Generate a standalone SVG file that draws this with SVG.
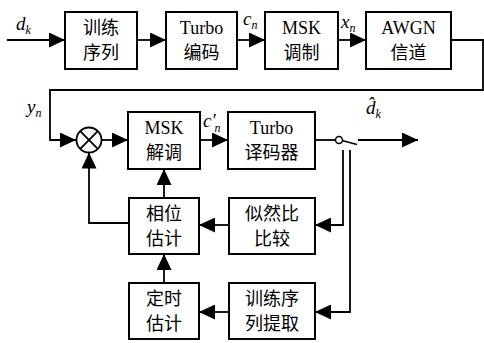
<svg xmlns="http://www.w3.org/2000/svg" width="484" height="343" viewBox="0 0 484 343">
<defs>
<marker id="arr" markerUnits="userSpaceOnUse" markerWidth="16" markerHeight="15" refX="16" refY="7.5" orient="auto">
<path d="M0,0 L16,7.5 L0,15 z" fill="#000"/>
</marker>
</defs>
<style>
.box{fill:#fff;stroke:#000;stroke-width:2}
.cn{font-family:"Liberation Serif","Noto Sans CJK SC",serif;font-size:18px;text-anchor:middle;fill:#000}
.lbl{font-family:"Liberation Serif",serif;font-style:italic;font-size:19px;fill:#000}
.sub{font-family:"Liberation Serif",serif;font-style:italic;font-size:12px;fill:#000}
.ln{fill:none;stroke:#000;stroke-width:1.8}
</style>
<rect width="484" height="343" fill="#fff"/>
<g id="connectors">
<path class="ln" d="M7,40 H65" marker-end="url(#arr)"/>
<path class="ln" d="M137,40 H166" marker-end="url(#arr)"/>
<path class="ln" d="M237,40 H265" marker-end="url(#arr)"/>
<path class="ln" d="M338,40 H366" marker-end="url(#arr)"/>
<path class="ln" d="M451,40 H483 V90 H50 V140 H76" marker-end="url(#arr)"/>
<path class="ln" d="M101,140 H128" marker-end="url(#arr)"/>
<path class="ln" d="M200,140 H228" marker-end="url(#arr)"/>
<path class="ln" d="M315,140 H335.5"/>
<path class="ln" d="M342,140.5 L357,144.5"/>
<path class="ln" d="M358,140 H418" marker-end="url(#arr)"/>
<path class="ln" d="M343,150 V225 H315" marker-end="url(#arr)"/>
<path class="ln" d="M350,150 V312 H315" marker-end="url(#arr)"/>
<path class="ln" d="M229,225 H199" marker-end="url(#arr)"/>
<path class="ln" d="M229,312 H199" marker-end="url(#arr)"/>
<path class="ln" d="M164,283 V254" marker-end="url(#arr)"/>
<path class="ln" d="M164,198 V169" marker-end="url(#arr)"/>
<path class="ln" d="M129,223 H89 V152.5" marker-end="url(#arr)"/>
</g>
<g id="labels">
<text class="lbl" x="16" y="30">d<tspan class="sub" dy="4">k</tspan></text>
<text class="lbl" x="243" y="25">c<tspan class="sub" dy="4">n</tspan></text>
<text class="lbl" x="341" y="28">x<tspan class="sub" dy="4">n</tspan></text>
<text class="lbl" x="27" y="113">y<tspan class="sub" dy="4">n</tspan></text>
<text class="lbl" x="203" y="127">c′<tspan class="sub" dx="-1" dy="5">n</tspan></text>
<text class="lbl" x="366" y="114">d̂<tspan class="sub" dy="4">k</tspan></text>
</g>
<g id="n_train"><rect class="box" x="65" y="12" width="72" height="57"/><text class="cn" x="101" y="34">训练</text><text class="cn" x="101" y="59">序列</text></g>
<g id="n_turboenc"><rect class="box" x="166" y="12" width="71" height="57"/><text class="cn" x="201.5" y="34">Turbo</text><text class="cn" x="201.5" y="59">编码</text></g>
<g id="n_mskmod"><rect class="box" x="265" y="12" width="73" height="57"/><text class="cn" x="301.5" y="34">MSK</text><text class="cn" x="301.5" y="59">调制</text></g>
<g id="n_awgn"><rect class="box" x="366" y="12" width="85" height="57"/><text class="cn" x="408.5" y="34">AWGN</text><text class="cn" x="408.5" y="59">信道</text></g>
<g id="n_mult"><circle cx="89" cy="140" r="12.5" fill="#fff" stroke="#000" stroke-width="1.8"/><path d="M80.2,131.2 L97.8,148.8 M97.8,131.2 L80.2,148.8" stroke="#000" stroke-width="1.8"/></g>
<g id="n_mskdemod"><rect class="box" x="128" y="112" width="72" height="57"/><text class="cn" x="164" y="134">MSK</text><text class="cn" x="164" y="159">解调</text></g>
<g id="n_turbodec"><rect class="box" x="228" y="112" width="87" height="57"/><text class="cn" x="271.5" y="134">Turbo</text><text class="cn" x="271.5" y="159">译码器</text></g>
<g id="n_switch"><circle cx="339" cy="140" r="3.5" fill="#fff" stroke="#000" stroke-width="1.5"/></g>
<g id="n_phase"><rect class="box" x="129" y="198" width="70" height="56"/><text class="cn" x="164" y="220">相位</text><text class="cn" x="164" y="245">估计</text></g>
<g id="n_llr"><rect class="box" x="229" y="198" width="86" height="56"/><text class="cn" x="272" y="220">似然比</text><text class="cn" x="272" y="245">比较</text></g>
<g id="n_timing"><rect class="box" x="129" y="283" width="70" height="56"/><text class="cn" x="164" y="305">定时</text><text class="cn" x="164" y="330">估计</text></g>
<g id="n_extract"><rect class="box" x="229" y="283" width="86" height="56"/><text class="cn" x="272" y="305">训练序</text><text class="cn" x="272" y="330">列提取</text></g>
</svg>
